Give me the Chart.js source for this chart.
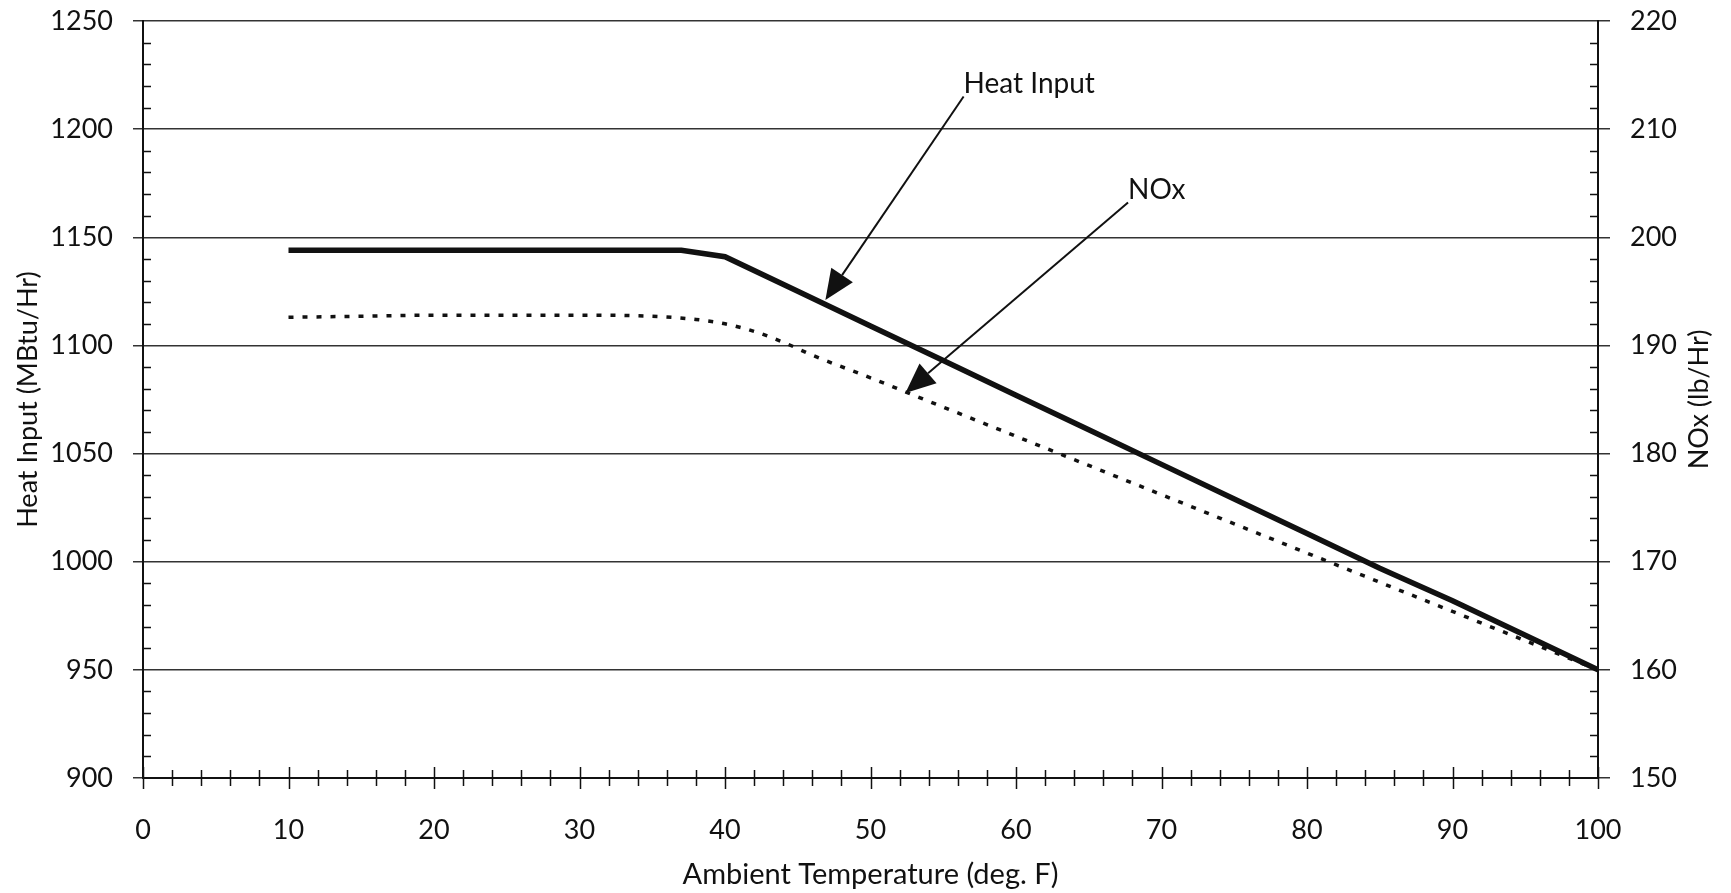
<!DOCTYPE html>
<html lang="en">
<head>
    <meta charset="UTF-8">
    <title>Heat Input and NOx vs Ambient Temperature</title>
    <script src="https://cdn.jsdelivr.net/npm/chart.js"></script>
    <style>
      body { margin: 0; background: #fff; }
    </style>
</head>
<body>
    <div style="width:1731px; height:893px;">
        <canvas id="grafico"></canvas>
    </div>

    <script>
      // values
      const heatTemps = [10, 20, 30, 37, 40, 45, 50, 55, 60, 65, 70, 75, 80, 85, 90, 95, 100]
      const heatInput = [1144, 1144, 1144, 1144, 1141, 1125, 1109, 1093, 1077, 1061, 1045, 1029, 1013, 997, 982, 966, 950]

      const noxTemps = [10, 15, 20, 25, 30, 35, 38, 40, 42, 44, 46, 50, 55, 60, 65, 70, 75, 80, 85, 90, 95, 100]
      const nox = [192.6, 192.7, 192.8, 192.8, 192.8, 192.7, 192.4, 192.0, 191.3, 190.3, 189.1, 187.0, 184.3, 181.6, 178.9, 176.2, 173.5, 170.8, 168.1, 165.4, 162.7, 160.0]

      // axis ranges
      const xMin = 0, xMax = 100, xStep = 10, xMinor = 2
      const yMin = 900, yMax = 1250, yStep = 50, yMinor = 10
      const y2Min = 150, y2Max = 220, y2Step = 10

      const rightTitle = 'NOx (lb/Hr)'

      // callouts, in data units of x / left y
      const notes = [
        { text: 'Heat Input', x: 56.4, y: 1216.5, toX: 46.9, toY: 1121 },
        { text: 'NOx', x: 67.7, y: 1167.5, toX: 52.4, toY: 1078 }
      ]

      const fonte = 'Lato'
      const ink = '#111'

      const pares = (xs, ys) => xs.map((x, i) => ({ x: x, y: ys[i] }))

      const marcas = {
        id: 'marcas',
        afterDraw(chart) {
          const { ctx, chartArea: a, scales } = chart
          ctx.save()
          ctx.strokeStyle = ink
          ctx.lineWidth = 1.5
          ctx.beginPath()
          for (let v = yMin; v <= yMax; v += yMinor) {
            if (v % yStep === 0) continue
            const py = Math.round(scales.y.getPixelForValue(v)) + 0.5
            ctx.moveTo(a.left, py); ctx.lineTo(a.left + 8, py)
            ctx.moveTo(a.right - 8, py); ctx.lineTo(a.right, py)
          }
          for (let v = xMin; v <= xMax; v += xMinor) {
            const px = Math.round(scales.x.getPixelForValue(v)) + 0.5
            const len = v % xStep === 0 ? 11 : 8
            ctx.moveTo(px, a.bottom - len); ctx.lineTo(px, a.bottom + len)
          }
          ctx.stroke()

          // right axis title, reading bottom to top like the left one
          ctx.fillStyle = ink
          ctx.font = '27px ' + fonte
          ctx.textAlign = 'center'
          ctx.textBaseline = 'middle'
          ctx.translate(chart.width - 32, (a.top + a.bottom) / 2)
          ctx.rotate(-Math.PI / 2)
          ctx.fillText(rightTitle, 0, 0)
          ctx.restore()
        }
      }

      const setas = {
        id: 'setas',
        afterDatasetsDraw(chart) {
          const { ctx, scales } = chart
          ctx.save()
          ctx.fillStyle = ink
          ctx.strokeStyle = ink
          ctx.font = '28px ' + fonte
          ctx.textBaseline = 'alphabetic'
          notes.forEach(n => {
            const x0 = scales.x.getPixelForValue(n.x)
            const y0 = scales.y.getPixelForValue(n.y)
            const x1 = scales.x.getPixelForValue(n.toX)
            const y1 = scales.y.getPixelForValue(n.toY)
            ctx.fillText(n.text, x0, y0)
            const ang = Math.atan2(y1 - y0, x1 - x0)
            const len = 30, half = 13
            const bx = x1 - len * Math.cos(ang), by = y1 - len * Math.sin(ang)
            ctx.lineWidth = 2
            ctx.beginPath()
            ctx.moveTo(x0, y0 + 3)
            ctx.lineTo(bx, by)
            ctx.stroke()
            ctx.beginPath()
            ctx.moveTo(x1, y1)
            ctx.lineTo(bx + half * Math.sin(ang), by - half * Math.cos(ang))
            ctx.lineTo(bx - half * Math.sin(ang), by + half * Math.cos(ang))
            ctx.closePath()
            ctx.fill()
          })
          ctx.restore()
        }
      }

      const semVirgula = v => String(v)

      // fixed side widths; drop the extra label padding so the top stays at 21px
      const ajusta = largura => scale => {
        scale.width = largura
        scale.paddingTop = 0
        scale.paddingBottom = 0
      }

      const ctx = document.getElementById('grafico')

      let grafico = new Chart(ctx, {
        type: 'line',
        data: {
          datasets: [{
            label: 'Heat Input',
            data: pares(heatTemps, heatInput),
            borderColor: ink,
            borderWidth: 5.5,
            pointRadius: 0,
            tension: 0,
            yAxisID: 'y'
          }, {
            label: 'NOx',
            data: pares(noxTemps, nox),
            borderColor: ink,
            borderWidth: 3.5,
            borderDash: [5, 9],
            pointRadius: 0,
            cubicInterpolationMode: 'monotone',
            yAxisID: 'y2'
          }]
        },
        plugins: [marcas, setas],
        options: {
          responsive: true,
          maintainAspectRatio: false,
          animation: false,
          layout: { padding: { top: 21 } },
          plugins: {
            legend: { display: false },
            tooltip: { enabled: false }
          },
          scales: {
            x: {
              type: 'linear',
              min: xMin, max: xMax,
              ticks: { stepSize: xStep, color: ink, font: { family: fonte, size: 27 }, padding: 36, callback: semVirgula },
              grid: { drawOnChartArea: false, drawTicks: false },
              border: { color: ink, width: 2 },
              title: { display: true, text: 'Ambient Temperature (deg. F)', color: ink, font: { family: fonte, size: 29 }, padding: { top: 0, bottom: 1 } },
              afterFit(scale) { scale.height = 115 }
            },
            y: {
              position: 'left',
              min: yMin, max: yMax,
              ticks: { stepSize: yStep, color: ink, font: { family: fonte, size: 27 }, padding: 20, callback: semVirgula },
              grid: { color: '#333', lineWidth: 1.5, tickLength: 10, tickColor: '#333' },
              border: { color: ink, width: 2 },
              title: { display: true, text: 'Heat Input (MBtu/Hr)', color: ink, font: { family: fonte, size: 27 }, padding: { top: 12, bottom: 0 } },
              afterFit: ajusta(143)
            },
            y2: {
              position: 'right',
              min: y2Min, max: y2Max,
              ticks: { stepSize: y2Step, color: ink, font: { family: fonte, size: 27 }, padding: 20, callback: semVirgula },
              grid: { drawOnChartArea: false, tickLength: 12, tickColor: '#333', lineWidth: 1.5 },
              border: { color: ink, width: 2 },
              afterFit: ajusta(133)
            }
          }
        }
      })
    </script>
</body>
</html>
